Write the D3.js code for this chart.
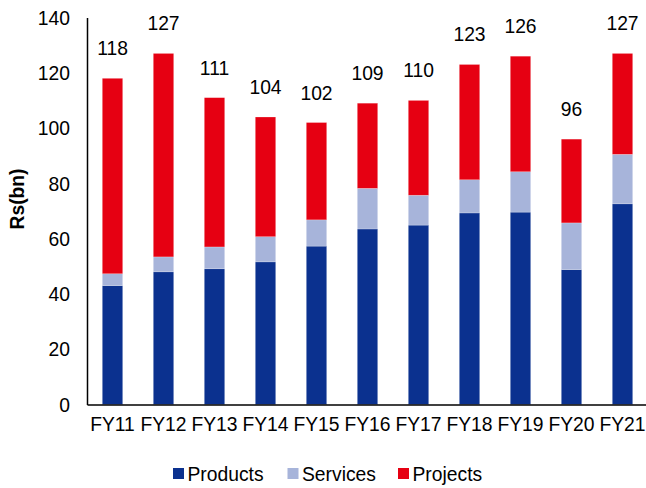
<!DOCTYPE html>
<html>
<head>
<meta charset="utf-8">
<script src="https://cdn.jsdelivr.net/npm/d3@7"></script>
<style>
  html, body { margin: 0; padding: 0; background: #fff; }
  svg text { font-family: Arial, "Liberation Sans", sans-serif; fill: #000; }
</style>
</head>
<body>
<svg id="chart" width="646" height="488"></svg>
<script>
// Revenue mix by segment, Rs bn
const years = ["FY11","FY12","FY13","FY14","FY15","FY16","FY17","FY18","FY19","FY20","FY21"];
const products = [43.0, 48.0, 49.1, 51.6, 57.3, 63.5, 64.9, 69.3, 69.6, 48.8, 72.6];
const services = [4.3, 5.4, 7.9, 9.1, 9.5, 14.7, 10.8, 12.0, 14.6, 16.9, 17.9];
const projects = [70.7, 73.6, 54.0, 43.3, 35.2, 30.8, 34.3, 41.7, 41.8, 30.3, 36.5];
const yTicks = [0, 20, 40, 60, 80, 100, 120, 140];

const seriesNames = ["Products", "Services", "Projects"];
const colors = { Products: "#0b318f", Services: "#a7b4da", Projects: "#e60012" };
const fontSize = "19.3px";

const rows = years.map((y, i) => ({
  year: y, Products: products[i], Services: services[i], Projects: projects[i]
}));

const svg = d3.select("#chart");
const plotLeft = 87, plotRight = 648, plotTop = 17.5, plotBottom = 404.5;

const x = d3.scaleBand().domain(years).range([plotLeft, plotRight]).paddingInner(0.6).paddingOuter(0.3);
const y = d3.scaleLinear().domain([0, 140]).range([plotBottom, plotTop]);

const stacked = d3.stack().keys(seriesNames)(rows);

svg.append("g")
  .selectAll("g")
  .data(stacked)
  .join("g")
  .attr("fill", d => colors[d.key])
  .selectAll("rect")
  .data(d => d)
  .join("rect")
  .attr("x", d => x(d.data.year))
  .attr("width", x.bandwidth())
  .attr("y", d => y(d[1]))
  .attr("height", d => y(d[0]) - y(d[1]))
  .attr("stroke", "rgba(255,255,255,0.35)")
  .attr("stroke-width", 0.6);

// total labels above each bar
svg.append("g")
  .selectAll("text")
  .data(rows)
  .join("text")
  .attr("x", d => x(d.year) + x.bandwidth() / 2)
  .attr("y", d => y(d.Products + d.Services + d.Projects) - 23)
  .attr("text-anchor", "middle")
  .style("font-size", fontSize)
  .text(d => Math.round(d.Products + d.Services + d.Projects));

// y axis
const yAxis = svg.append("g")
  .attr("transform", `translate(${plotLeft},0)`)
  .call(d3.axisLeft(y).tickValues(yTicks).tickSize(0).tickPadding(17));
yAxis.select(".domain").attr("stroke", "#000").attr("stroke-width", 1.5);
yAxis.selectAll("text").style("font-size", fontSize).attr("dy", "0.35em")
  .style("font-family", "Arial, 'Liberation Sans', sans-serif");

// x axis
const xAxis = svg.append("g")
  .attr("transform", `translate(0,${plotBottom})`)
  .call(d3.axisBottom(x).tickSize(0).tickPadding(13));
xAxis.select(".domain").attr("stroke", "#000").attr("stroke-width", 1.5);
xAxis.selectAll("text").style("font-size", fontSize)
  .style("font-family", "Arial, 'Liberation Sans', sans-serif");

// y axis title
svg.append("text")
  .attr("transform", "translate(24,199) rotate(-90)")
  .attr("text-anchor", "middle")
  .style("font-size", fontSize)
  .style("font-weight", "bold")
  .text("Rs(bn)");

// legend
const legendX = [173, 287.5, 398];
const legend = svg.append("g")
  .selectAll("g")
  .data(seriesNames)
  .join("g")
  .attr("transform", (d, i) => `translate(${legendX[i]},468)`);
legend.append("rect")
  .attr("width", 11).attr("height", 11)
  .attr("fill", d => colors[d]);
legend.append("text")
  .attr("x", 14.5).attr("y", 13)
  .style("font-size", fontSize)
  .text(d => d);
</script>
</body>
</html>
